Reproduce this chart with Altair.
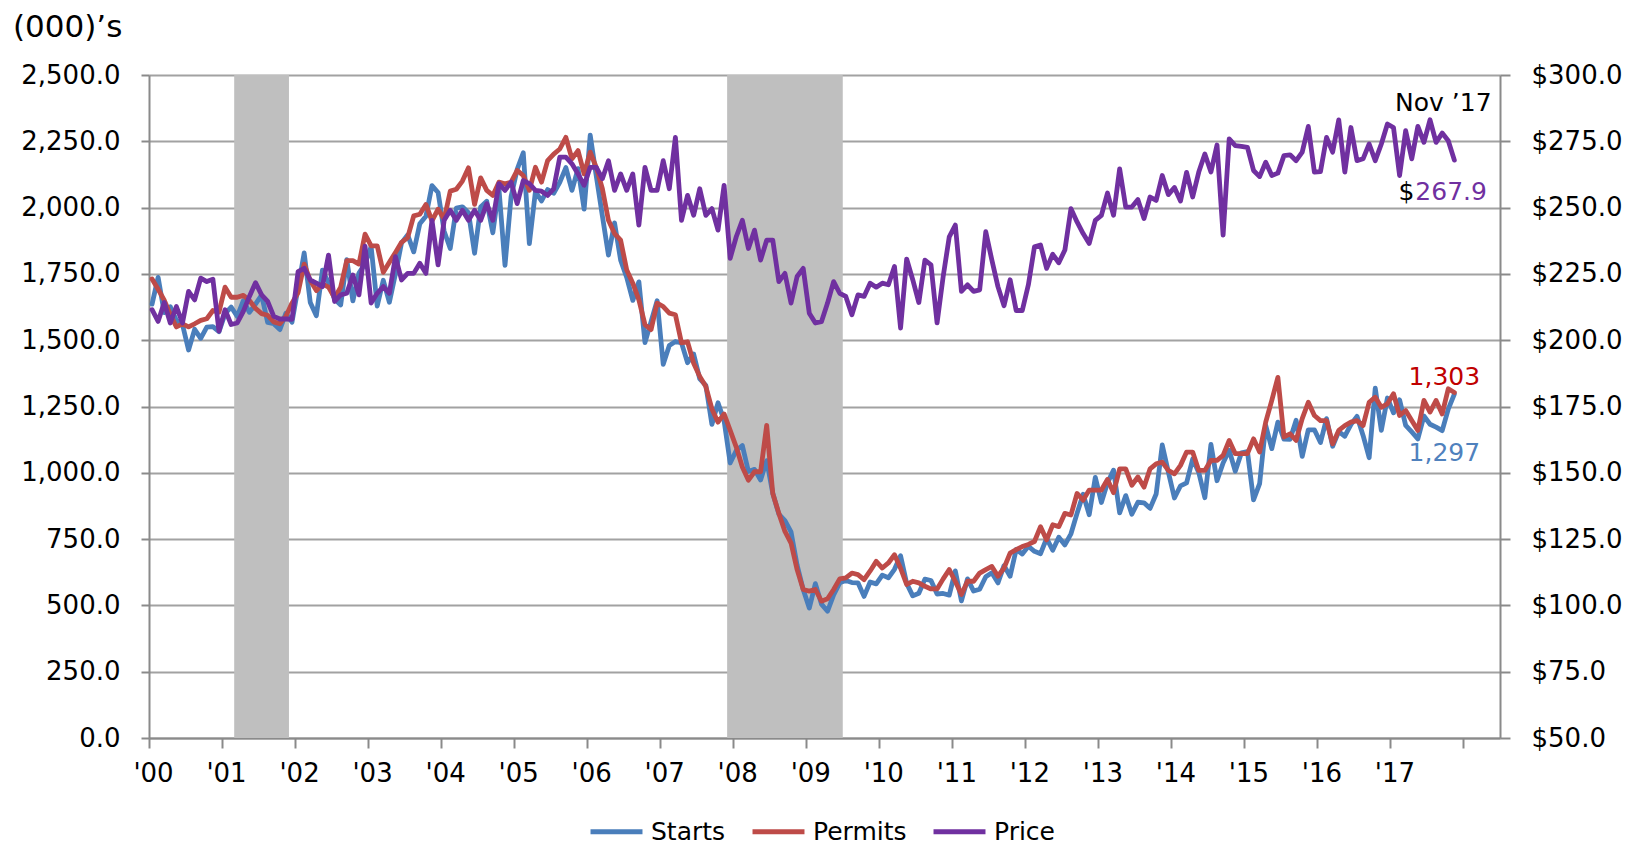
import json
import altair as alt
import pandas as pd

# ---------------- data (monthly, Jan 2000 .. Nov 2017) ----------------
starts = [
    1636, 1737, 1604, 1626, 1575, 1559, 1463, 1541, 1507, 1549, 1551, 1532,
    1600, 1625, 1590, 1649, 1605, 1636, 1670, 1567, 1562, 1540, 1602, 1568,
    1698, 1829, 1642, 1592, 1764, 1717, 1655, 1633, 1804, 1648, 1753, 1788,
    1853, 1629, 1726, 1643, 1751, 1867, 1897, 1833, 1939, 1967, 2083, 2057,
    1911, 1846, 1998, 2003, 1981, 1828, 2002, 2024, 1905, 2072, 1782, 2042,
    2144, 2207, 1864, 2061, 2025, 2068, 2054, 2095, 2151, 2065, 2147, 1994,
    2273, 2119, 1969, 1821, 1942, 1802, 1737, 1650, 1720, 1491, 1570, 1649,
    1409, 1480, 1495, 1490, 1415, 1448, 1354, 1330, 1183, 1264, 1197, 1037,
    1084, 1103, 1005, 1013, 973, 1046, 923, 844, 820, 777, 652, 560,
    490, 582, 505, 478, 540, 585, 594, 586, 585, 534, 588, 581,
    614, 604, 636, 687, 583, 536, 546, 599, 594, 543, 545, 539,
    630, 517, 600, 554, 561, 608, 623, 585, 650, 610, 711, 694,
    723, 704, 695, 753, 708, 757, 728, 770, 847, 919, 842, 983,
    888, 962, 1010, 849, 914, 844, 889, 887, 866, 920, 1105, 1003,
    905, 951, 962, 1052, 1001, 906, 1107, 970, 1037, 1085, 1006, 1075,
    1080, 898, 959, 1179, 1091, 1191, 1127, 1126, 1198, 1062, 1162, 1162,
    1114, 1204, 1100, 1155, 1138, 1182, 1213, 1141, 1057, 1319, 1160, 1282,
    1226, 1275, 1179, 1154, 1128, 1214, 1183, 1172, 1159, 1240, 1297,
]

permits = [
    1731, 1692, 1651, 1597, 1550, 1562, 1550, 1562, 1575, 1581, 1612, 1606,
    1700, 1662, 1662, 1669, 1650, 1620, 1600, 1594, 1569, 1562, 1590, 1640,
    1680, 1787, 1725, 1687, 1712, 1700, 1660, 1700, 1800, 1800, 1787, 1900,
    1856, 1856, 1756, 1794, 1831, 1869, 1887, 1969, 1975, 2012, 1950, 1994,
    1956, 2062, 2069, 2100, 2150, 2012, 2112, 2065, 2046, 2096, 2090, 2096,
    2140, 2121, 2065, 2152, 2096, 2177, 2202, 2221, 2265, 2184, 2215, 2127,
    2209, 2152, 2071, 1952, 1902, 1877, 1765, 1715, 1652, 1559, 1540, 1640,
    1627, 1602, 1596, 1490, 1494, 1413, 1363, 1325, 1241, 1191, 1222, 1160,
    1097, 1022, 972, 1004, 1004, 1179, 922, 847, 779, 735, 635, 560,
    554, 560, 516, 525, 560, 600, 604, 622, 616, 597, 630, 666,
    641, 660, 691, 640, 579, 591, 585, 572, 562, 562, 600, 635,
    590, 541, 591, 591, 622, 635, 647, 610, 641, 697, 710, 722,
    730, 741, 797, 747, 804, 797, 847, 841, 922, 897, 935, 935,
    935, 975, 925, 1015, 1015, 953, 984, 946, 1015, 1034, 1040, 1009,
    996, 1028, 1078, 1078, 1009, 1009, 1047, 1047, 1066, 1122, 1072, 1072,
    1072, 1128, 1078, 1191, 1273, 1360, 1135, 1147, 1122, 1204, 1266, 1216,
    1197, 1197, 1109, 1160, 1178, 1191, 1197, 1178, 1266, 1285, 1247, 1260,
    1298, 1216, 1235, 1197, 1160, 1273, 1229, 1273, 1222, 1317, 1303,
]

price = [
    211.5, 207.1, 214.2, 206.5, 212.7, 206.5, 218.4, 215.2, 223.4, 222.1, 223.0, 203.4,
    211.5, 205.9, 206.5, 210.9, 216.5, 221.7, 217.1, 214.6, 209.0, 208.0, 208.0, 207.9,
    225.9, 227.1, 222.7, 221.5, 220.2, 232.1, 214.6, 217.1, 217.7, 224.6, 217.1, 235.5,
    214.0, 217.7, 220.2, 217.7, 231.5, 222.7, 225.2, 225.2, 229.0, 225.2, 245.2, 228.4,
    245.2, 249.0, 245.2, 249.0, 245.2, 249.0, 245.2, 251.5, 245.2, 259.0, 256.5, 259.6,
    251.5, 260.2, 259.0, 256.5, 256.2, 254.6, 257.1, 269.0, 269.0, 266.5, 262.7, 258.4,
    265.2, 265.2, 260.9, 267.7, 256.5, 262.7, 256.5, 262.7, 243.4, 265.2, 256.5, 256.5,
    267.7, 257.1, 276.5, 245.2, 254.6, 247.1, 257.1, 247.1, 249.6, 241.5, 258.4, 230.9,
    239.0, 245.2, 234.6, 241.5, 230.2, 237.7, 237.7, 222.1, 225.2, 214.0, 224.0, 227.1,
    210.2, 206.5, 207.0, 214.0, 222.1, 217.7, 216.5, 209.6, 217.1, 216.5, 221.5, 220.0,
    221.5, 220.9, 227.8, 204.6, 230.6, 222.8, 214.2, 230.2, 228.4, 206.5, 224.0, 239.0,
    243.4, 218.4, 220.9, 218.4, 219.0, 240.9, 230.2, 220.2, 213.0, 222.8, 211.2, 211.2,
    220.9, 235.2, 235.9, 227.1, 232.4, 229.2, 234.0, 249.6, 244.6, 240.2, 236.5, 245.2,
    247.1, 255.5, 247.1, 264.6, 250.2, 250.2, 253.0, 245.9, 254.0, 252.7, 262.1, 254.9,
    257.6, 252.5, 263.3, 254.0, 263.4, 270.2, 263.4, 273.6, 239.6, 275.9, 273.4, 273.1,
    272.7, 264.0, 261.7, 267.1, 262.1, 263.0, 269.6, 269.9, 267.7, 270.9, 280.6, 263.4,
    263.6, 276.5, 270.9, 283.1, 263.4, 280.2, 267.7, 268.4, 274.0, 267.7, 274.0, 281.5,
    280.2, 262.1, 279.0, 268.4, 280.6, 274.6, 283.1, 274.6, 278.1, 275.2, 267.9,
]

year_labels = ["'00", "'01", "'02", "'03", "'04", "'05", "'06", "'07", "'08",
               "'09", "'10", "'11", "'12", "'13", "'14", "'15", "'16", "'17", ""]

# recessions, in month indexes (Mar 2001-Nov 2001, Dec 2007-Jun 2009)
rec_start = [14, 95]
rec_end = [23, 114]

series_names = ["Starts", "Permits", "Price"]
series_colors = ["#4A7EBB", "#BE4B48", "#7030A0"]

# ---------------- frames ----------------
n = len(starts)
centre = [i + 0.5 for i in range(n)]          # each month sits in the middle of its slot
left_df = pd.DataFrame({
    "t": centre * 2,
    "value": starts + permits,
    "series": ["Starts"] * n + ["Permits"] * n,
})
price_df = pd.DataFrame({"t": centre, "price": price, "series": ["Price"] * n})
rec_df = pd.DataFrame({"start": rec_start, "end": rec_end})
one = pd.DataFrame({"k": [0]})

FONT = "DejaVu Sans"
GRID = "#A2A2A2"
AXC = "#8A8A8A"

x_scale = alt.Scale(domain=[0, 222], nice=False, zero=False)
x_axis = alt.Axis(
    values=list(range(0, 217, 12)),
    labelExpr=json.dumps(year_labels) + "[round(datum.value / 12)]",
    title=None, grid=False, domainColor=AXC, domainWidth=2,
    tickColor=AXC, tickWidth=2, tickSize=10, labelPadding=12, labelOffset=4,
    labelFont=FONT, labelFontSize=26, labelColor="black", labelAlign="center",
)
left_scale = alt.Scale(domain=[0, 2500], nice=False, zero=True)
left_axis = alt.Axis(
    values=list(range(0, 2501, 250)), format=",.1f", title=None, orient="left",
    grid=True, gridColor=GRID, gridWidth=2, domainColor=AXC, domainWidth=2,
    tickColor=AXC, tickWidth=2, tickSize=8, labelPadding=21,
    labelFont=FONT, labelFontSize=26, labelColor="black",
)
right_scale = alt.Scale(domain=[50, 300], nice=False, zero=False)
right_axis = alt.Axis(
    values=list(range(50, 301, 25)), labelExpr="'$' + format(datum.value, '.1f')",
    title=None, orient="right", grid=False, domainColor=AXC, domainWidth=2,
    tickColor=AXC, tickWidth=2, tickSize=10, labelPadding=21,
    labelFont=FONT, labelFontSize=26, labelColor="black",
)
color_scale = alt.Scale(domain=series_names, range=series_colors)
legend = alt.Legend(
    orient="none", legendX=439, legendY=728, direction="horizontal", title=None,
    symbolType="stroke", symbolStrokeWidth=5, symbolSize=2700,
    labelFont=FONT, labelFontSize=25, labelColor="black", labelOffset=6,
    columnPadding=16, padding=0,
)


def X(field):
    return alt.X(field, scale=x_scale, axis=x_axis)


def XD(v):
    return alt.X(datum=v, scale=x_scale, axis=x_axis)


def YL(field):
    return alt.Y(field, scale=left_scale, axis=left_axis)


def YLD(v):
    return alt.Y(datum=v, scale=left_scale, axis=left_axis)


def YR(field):
    return alt.Y(field, scale=right_scale, axis=right_axis)


def YRD(v):
    return alt.Y(datum=v, scale=right_scale, axis=right_axis)


color = alt.Color("series:N", scale=color_scale, legend=legend)

rec = alt.Chart(rec_df).mark_rect(color="#BFBFBF").encode(
    x=X("start:Q"), x2="end:Q", y=YLD(2500), y2=alt.Y2(datum=0)
)

line_kw = dict(strokeWidth=4.8, strokeJoin="round", strokeCap="round")

starts_line = alt.Chart(left_df).transform_filter(
    alt.datum.series == "Starts"
).mark_line(**line_kw).encode(x=X("t:Q"), y=YL("value:Q"), color=color)

permits_line = alt.Chart(left_df).transform_filter(
    alt.datum.series == "Permits"
).mark_line(**line_kw).encode(x=X("t:Q"), y=YL("value:Q"), color=color)

last_t = centre[-1]

lab_permits = alt.Chart(one).mark_text(
    font=FONT, fontSize=25, color="#C00000", align="center", baseline="middle", dx=-10, dy=-15
).encode(x=XD(last_t), y=YLD(permits[-1]), text=alt.value(f"{permits[-1]:,}"))

lab_starts = alt.Chart(one).mark_text(
    font=FONT, fontSize=25, color="#4F81BD", align="center", baseline="middle", dx=-10, dy=59
).encode(x=XD(last_t), y=YLD(starts[-1]), text=alt.value(f"{starts[-1]:,}"))

unit_title = alt.Chart(one).mark_text(
    font=FONT, fontSize=31, color="black", align="left", baseline="middle"
).encode(x=alt.value(-136), y=alt.value(-47), text=alt.value("(000)\u2019s"))

left = alt.layer(rec, starts_line, permits_line, lab_permits, lab_starts, unit_title)

price_line = alt.Chart(price_df).mark_line(**line_kw).encode(
    x=X("t:Q"), y=YR("price:Q"), color=color
)

lab_nov = alt.Chart(one).mark_text(
    font=FONT, fontSize=25, color="black", align="center", baseline="middle", dx=-11, dy=-57
).encode(x=XD(last_t), y=YRD(price[-1]), text=alt.value("Nov \u201917"))

lab_dollar = alt.Chart(one).mark_text(
    font=FONT, fontSize=25, color="black", align="right", baseline="middle", dx=-40, dy=32
).encode(x=XD(last_t), y=YRD(price[-1]), text=alt.value("$"))

lab_price = alt.Chart(one).mark_text(
    font=FONT, fontSize=25, color="#7030A0", align="left", baseline="middle", dx=-39, dy=32
).encode(x=XD(last_t), y=YRD(price[-1]), text=alt.value(f"{price[-1]:.1f}"))

right = alt.layer(price_line, lab_nov, lab_dollar, lab_price)

chart = (
    alt.layer(left, right)
    .resolve_scale(y="independent")
    .properties(
        width=1351, height=663,
        padding={"left": 141, "top": 67, "right": 125, "bottom": 108},
        autosize=alt.AutoSizeParams(type="none"),
        background="white",
    )
    .configure_view(stroke=None)
)

chart.save("out.html", embed_options={"renderer": "svg", "actions": False})
